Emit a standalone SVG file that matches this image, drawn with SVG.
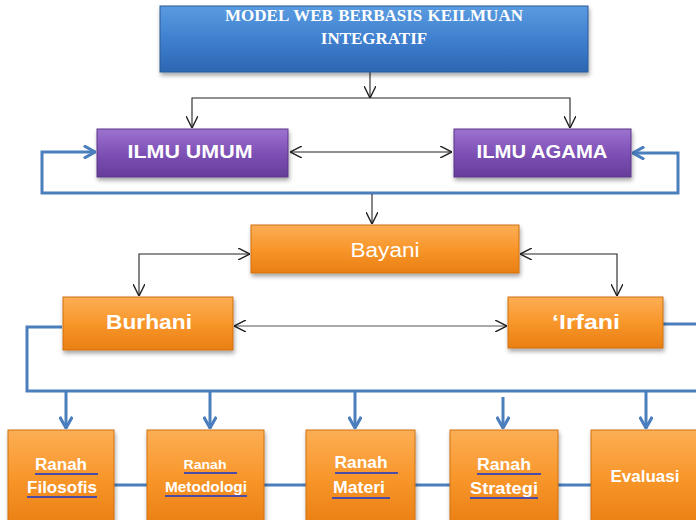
<svg xmlns="http://www.w3.org/2000/svg" width="696" height="520" viewBox="0 0 696 520">
<defs>
<linearGradient id="gBlue" x1="0" y1="0" x2="0" y2="1">
<stop offset="0" stop-color="#5a9be0"/><stop offset="0.5" stop-color="#3f80cf"/><stop offset="1" stop-color="#2c66b2"/>
</linearGradient>
<linearGradient id="gPurple" x1="0" y1="0" x2="0" y2="1">
<stop offset="0" stop-color="#9d72cf"/><stop offset="0.5" stop-color="#7e51b6"/><stop offset="1" stop-color="#653d99"/>
</linearGradient>
<linearGradient id="gOrange" x1="0" y1="0" x2="0" y2="1">
<stop offset="0" stop-color="#fcae55"/><stop offset="0.5" stop-color="#f8962a"/><stop offset="1" stop-color="#e97f14"/>
</linearGradient>
<filter id="sh" x="-10%" y="-10%" width="125%" height="135%">
<feDropShadow dx="1" dy="3" stdDeviation="2" flood-color="#000" flood-opacity="0.35"/>
</filter>
<marker id="aK" viewBox="0 0 10 10" refX="10" refY="5" markerWidth="12" markerHeight="12" markerUnits="userSpaceOnUse" orient="auto-start-reverse">
<path d="M0,0 L10,5 L0,10" fill="none" stroke="#222" stroke-width="1.2"/>
</marker>
<marker id="aB" viewBox="0 0 10 10" refX="9" refY="5" markerWidth="14" markerHeight="14" markerUnits="userSpaceOnUse" orient="auto-start-reverse">
<path d="M1,0.5 L9,5 L1,9.5" fill="none" stroke="#4a7ebd" stroke-width="2.2"/>
</marker>
</defs>
<style>
.box{filter:url(#sh);stroke-width:1}
.blue{fill:url(#gBlue);stroke:#2a5a9a}
.purple{fill:url(#gPurple);stroke:#5a3689}
.orange{fill:url(#gOrange);stroke:#d0700f}
.k{fill:none;stroke:#222;stroke-width:1.1}
.b{fill:none;stroke:#4a7ebd;stroke-width:3}
.tt{font-family:"Liberation Serif",serif;font-weight:bold;font-size:17px;fill:#fff;text-anchor:middle}
.lb{font-family:"Liberation Sans",Arial,sans-serif;font-weight:bold;fill:#fff;text-anchor:middle}
.ul{stroke:#4b4ba8;stroke-width:2}
</style>
<rect width="696" height="520" fill="#fff"/>
<g id="connectors">
<path class="k" d="M370,72 L370,98" marker-end="url(#aK)"/>
<path class="k" d="M192,128 L192,98 L570,98 L570,128" marker-start="url(#aK)" marker-end="url(#aK)"/>
<path class="k" d="M290,152 L452,152" marker-start="url(#aK)" marker-end="url(#aK)"/>
<path class="b" d="M633,153 L678,153 L678,193 L42,193 L42,152 L95,152" marker-start="url(#aB)" marker-end="url(#aB)"/>
<path class="k" d="M372,194 L372,224" marker-end="url(#aK)"/>
<path class="k" d="M250,254 L139,254 L139,296" marker-start="url(#aK)" marker-end="url(#aK)"/>
<path class="k" d="M520,254 L617,254 L617,296" marker-start="url(#aK)" marker-end="url(#aK)"/>
<path class="k" style="stroke:#555" d="M234,326 L507,326" marker-start="url(#aK)" marker-end="url(#aK)"/>
<path class="b" d="M62,327 L27,327 L27,391 L698,391"/>
<path class="b" d="M663,324 L698,324 L698,391"/>
<path class="b" d="M66,391 L66,428" marker-end="url(#aB)"/>
<path class="b" d="M210,391 L210,428" marker-end="url(#aB)"/>
<path class="b" d="M355,391 L355,428" marker-end="url(#aB)"/>
<path class="b" d="M503,397 L503,428" marker-end="url(#aB)"/>
<path class="b" d="M646,391 L646,428" marker-end="url(#aB)"/>
<path class="b" d="M114,485 L147,485 M264,485 L306,485 M415,485 L450,485 M558,485 L591,485"/>
</g>
<g id="title">
<rect class="box blue" x="160" y="6" width="428" height="66"/>
<text class="tt" x="374" y="21" word-spacing="1">MODEL WEB BERBASIS KEILMUAN</text>
<text class="tt" x="374" y="44">INTEGRATIF</text>
</g>
<g id="ilmu-umum">
<rect class="box purple" x="97" y="129" width="191" height="48"/>
<text class="lb" x="190" y="158" font-size="19" textLength="125" lengthAdjust="spacingAndGlyphs">ILMU UMUM</text>
</g>
<g id="ilmu-agama">
<rect class="box purple" x="454" y="129" width="177" height="48"/>
<text class="lb" x="542" y="158" font-size="19" textLength="131" lengthAdjust="spacingAndGlyphs">ILMU AGAMA</text>
</g>
<g id="bayani">
<rect class="box orange" x="251" y="225" width="268" height="48"/>
<text class="lb" x="385" y="257" font-size="20" style="font-weight:normal" textLength="69" lengthAdjust="spacingAndGlyphs">Bayani</text>
</g>
<g id="burhani">
<rect class="box orange" x="63" y="297" width="170" height="53"/>
<text class="lb" x="149" y="329" font-size="20" textLength="86" lengthAdjust="spacingAndGlyphs">Burhani</text>
</g>
<g id="irfani">
<rect class="box orange" x="508" y="297" width="155" height="51"/>
<text class="lb" x="586" y="329" font-size="20" textLength="68" lengthAdjust="spacingAndGlyphs">‘Irfani</text>
</g>
<g id="ranah-filosofis">
<rect class="box orange" x="8" y="430" width="106" height="96"/>
<text class="lb" x="61" y="470" font-size="16" textLength="52" lengthAdjust="spacingAndGlyphs">Ranah</text>
<text class="lb" x="62" y="493" font-size="16" textLength="70" lengthAdjust="spacingAndGlyphs">Filosofis</text>
<path class="ul" d="M35,474 L98,474 M27,497 L97,497"/>
</g>
<g id="ranah-metodologi">
<rect class="box orange" x="147" y="430" width="117" height="96"/>
<text class="lb" x="205" y="469" font-size="13" textLength="43" lengthAdjust="spacingAndGlyphs">Ranah</text>
<text class="lb" x="206" y="492" font-size="14" textLength="82" lengthAdjust="spacingAndGlyphs">Metodologi</text>
<path class="ul" d="M184,473 L237,473 M165,496 L247,496"/>
</g>
<g id="ranah-materi">
<rect class="box orange" x="306" y="430" width="109" height="96"/>
<text class="lb" x="361" y="468" font-size="16" textLength="53" lengthAdjust="spacingAndGlyphs">Ranah</text>
<text class="lb" x="359" y="493" font-size="16" textLength="52" lengthAdjust="spacingAndGlyphs">Materi</text>
<path class="ul" d="M335,473 L398,473 M332,498 L390,498"/>
</g>
<g id="ranah-strategi">
<rect class="box orange" x="450" y="430" width="108" height="96"/>
<text class="lb" x="504" y="470" font-size="16" textLength="54" lengthAdjust="spacingAndGlyphs">Ranah</text>
<text class="lb" x="504" y="494" font-size="16" textLength="68" lengthAdjust="spacingAndGlyphs">Strategi</text>
<path class="ul" d="M477,474 L541,474 M470,498 L538,498"/>
</g>
<g id="evaluasi">
<rect class="box orange" x="591" y="430" width="108" height="96"/>
<text class="lb" x="645" y="482" font-size="16" textLength="69" lengthAdjust="spacingAndGlyphs">Evaluasi</text>
</g>
</svg>
